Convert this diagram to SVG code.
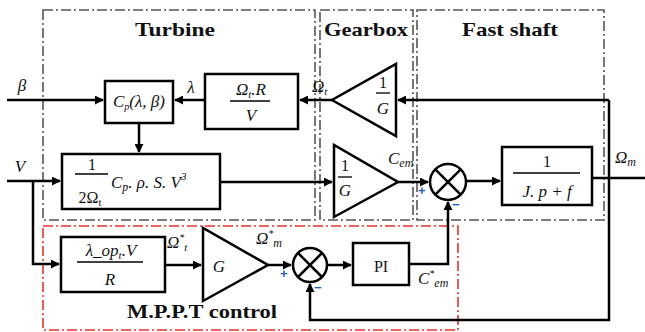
<svg xmlns="http://www.w3.org/2000/svg" width="645" height="332" viewBox="0 0 645 332">
<style>
.ln{fill:none;stroke:#000;stroke-width:2.5}
.bx{fill:#fff;stroke:#000;stroke-width:2.5}
.zone{fill:none;stroke:#555;stroke-width:1.6;stroke-dasharray:10 3 2 3}
.red{fill:none;stroke:#e8332a;stroke-width:1.6;stroke-dasharray:10 3 2 3}
.ttl{font-family:"Liberation Serif",serif;font-weight:bold;font-size:19px;fill:#111}
.m{font-family:"Liberation Serif",serif;font-style:italic;font-size:17px;fill:#111}
.r{font-family:"Liberation Serif",serif;font-size:16px;fill:#111}
.sg{font-family:"Liberation Sans",sans-serif;font-weight:bold;font-size:13px;fill:#1f5fbf}
</style>
<defs>
<marker id="ar" viewBox="0 0 10 10" refX="9" refY="5" markerWidth="3.6" markerHeight="3.6" orient="auto" markerUnits="strokeWidth">
<path d="M0,0 L10,5 L0,10 z" fill="#000"/>
</marker>
</defs>
<rect width="645" height="332" fill="#fff"/>
<g id="zones">
<rect class="zone" x="43" y="10" width="272" height="210"/>
<rect class="zone" x="320" y="10" width="93" height="210"/>
<rect class="zone" x="417" y="10" width="187" height="210"/>
<rect class="red" x="43" y="226" width="415" height="104"/>
<text class="ttl" x="175" y="36" text-anchor="middle" textLength="80" lengthAdjust="spacingAndGlyphs">Turbine</text>
<text class="ttl" x="366" y="36" text-anchor="middle" textLength="84" lengthAdjust="spacingAndGlyphs">Gearbox</text>
<text class="ttl" x="510" y="36" text-anchor="middle" textLength="96" lengthAdjust="spacingAndGlyphs">Fast shaft</text>
<text class="ttl" x="202" y="318" text-anchor="middle" textLength="150" lengthAdjust="spacingAndGlyphs">M.P.P.T control</text>
</g>
<g id="connectors">
<path class="ln" d="M7,100 H103" marker-end="url(#ar)"/>
<path class="ln" d="M205,100 H175" marker-end="url(#ar)"/>
<path class="ln" d="M332,100 H300" marker-end="url(#ar)"/>
<path class="ln" d="M609,100 H398" marker-end="url(#ar)"/>
<path class="ln" d="M139,123 V152" marker-end="url(#ar)"/>
<path class="ln" d="M7,181 H60" marker-end="url(#ar)"/>
<path class="ln" d="M33,181 V264 H59" marker-end="url(#ar)"/>
<path class="ln" d="M220,182 H332" marker-end="url(#ar)"/>
<path class="ln" d="M398,182 H428" marker-end="url(#ar)"/>
<path class="ln" d="M466,181 H500" marker-end="url(#ar)"/>
<path class="ln" d="M592,178 H645"/>
<path class="ln" d="M609,100 V320 H310 V284" marker-end="url(#ar)"/>
<path class="ln" d="M165,265 H201" marker-end="url(#ar)"/>
<path class="ln" d="M268,265 H291" marker-end="url(#ar)"/>
<path class="ln" d="M327,265 H351" marker-end="url(#ar)"/>
<path class="ln" d="M409,264 H448 V202" marker-end="url(#ar)"/>
</g>
<g id="labels">
<text class="m" x="22" y="91" text-anchor="middle" font-size="19">β</text>
<text class="m" x="20" y="172" text-anchor="middle" font-size="19">V</text>
<text class="m" x="191" y="93" text-anchor="middle">λ</text>
<text class="m" x="312" y="92">Ω<tspan font-size="11" dy="3">t</tspan></text>
<text class="m" x="388" y="164">C<tspan font-size="12" dy="3">em</tspan></text>
<text class="m" x="615" y="163">Ω<tspan font-size="12" dy="3">m</tspan></text>
<text class="m" x="167" y="248">Ω<tspan font-size="10" dy="-7">*</tspan><tspan font-size="11" dy="10">t</tspan></text>
<text class="m" x="256" y="244">Ω<tspan font-size="10" dy="-7">*</tspan><tspan font-size="12" dy="10">m</tspan></text>
<text class="m" x="418" y="284">C<tspan font-size="10" dy="-7">*</tspan><tspan font-size="12" dy="10">em</tspan></text>
<text class="sg" x="418" y="195">+</text>
<text class="sg" x="452" y="209">−</text>
<text class="sg" x="280" y="278">+</text>
<text class="sg" x="314" y="292">−</text>
</g>
<g id="cp">
<rect class="bx" x="105" y="81" width="68" height="42"/>
<text class="m" x="139" y="107" text-anchor="middle" font-size="15">C<tspan font-size="10" dy="3">p</tspan><tspan dy="-3">(λ, β)</tspan></text>
</g>
<g id="lambda">
<rect class="bx" x="205" y="74" width="93" height="55"/>
<text class="m" x="251" y="95" text-anchor="middle" font-size="16">Ω<tspan font-size="11" dy="3">t</tspan><tspan dy="-3">.R</tspan></text>
<line x1="230" y1="101" x2="270" y2="101" stroke="#000" stroke-width="1.3"/>
<text class="m" x="251" y="121" text-anchor="middle">V</text>
</g>
<g id="gear1">
<path class="bx" d="M396,64 L396,136 L332,100 Z"/>
<text class="r" x="383" y="88" text-anchor="middle">1</text>
<line x1="376" y1="93" x2="390" y2="93" stroke="#000" stroke-width="1.3"/>
<text class="m" x="383" y="114" text-anchor="middle" font-size="16">G</text>
</g>
<g id="power">
<rect class="bx" x="62" y="154" width="158" height="55"/>
<text class="r" x="92" y="170" text-anchor="middle">1</text>
<line x1="75" y1="174" x2="108" y2="174" stroke="#000" stroke-width="1.3"/>
<text class="r" x="90" y="203" text-anchor="middle" font-size="17">2Ω<tspan font-size="11" dy="3">t</tspan></text>
<text class="m" x="111" y="188" font-size="19">C<tspan font-size="12" dy="3">p</tspan><tspan dy="-3">. ρ. S. V</tspan><tspan font-size="11" dy="-8">3</tspan></text>
</g>
<g id="gear2">
<path class="bx" d="M334,145 L334,217 L398,182 Z"/>
<text class="r" x="345" y="171" text-anchor="middle">1</text>
<line x1="338" y1="177" x2="352" y2="177" stroke="#000" stroke-width="1.3"/>
<text class="m" x="345" y="196" text-anchor="middle" font-size="16">G</text>
</g>
<g id="sum1">
<circle class="bx" cx="448" cy="182" r="18"/>
<path class="ln" d="M435.3,169.3 L460.7,194.7 M460.7,169.3 L435.3,194.7"/>
</g>
<g id="shaft">
<rect class="bx" x="502" y="147" width="90" height="58"/>
<text class="r" x="547" y="167" text-anchor="middle">1</text>
<line x1="513" y1="173" x2="580" y2="173" stroke="#000" stroke-width="1.3"/>
<text class="m" x="547" y="197" text-anchor="middle" font-size="18">J. p + f</text>
</g>
<g id="lopt">
<rect class="bx" x="61" y="237" width="104" height="55"/>
<text class="m" x="111" y="256" text-anchor="middle" font-size="15">λ_op<tspan font-size="11" dy="3">t</tspan><tspan dy="-3">.V</tspan></text>
<line x1="77" y1="262" x2="143" y2="262" stroke="#000" stroke-width="1.3"/>
<text class="m" x="110" y="285" text-anchor="middle">R</text>
</g>
<g id="gainG">
<path class="bx" d="M203,228 L203,301 L268,265 Z"/>
<text class="m" x="219" y="272" text-anchor="middle" font-size="19">G</text>
</g>
<g id="sum2">
<circle class="bx" cx="310" cy="265" r="17"/>
<path class="ln" d="M298,253 L322,277 M322,253 L298,277"/>
</g>
<g id="pi">
<rect class="bx" x="353" y="243" width="56" height="42"/>
<text class="r" x="381" y="272" text-anchor="middle" font-size="20">PI</text>
</g>
</svg>
